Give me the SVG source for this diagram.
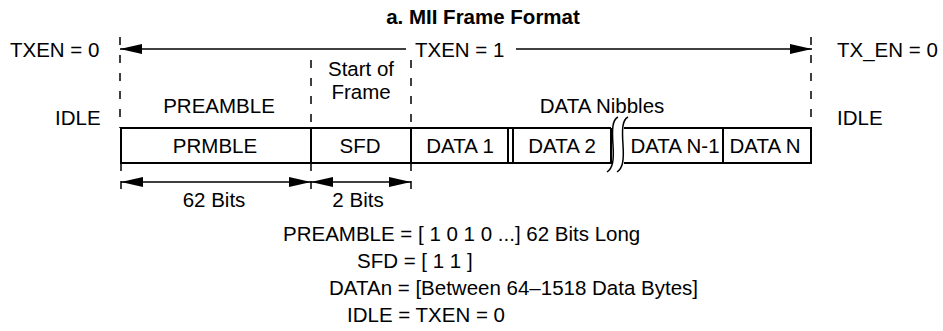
<svg xmlns="http://www.w3.org/2000/svg" width="943" height="331" viewBox="0 0 943 331">
<defs>
<style>
text{font-family:"Liberation Sans",Arial,sans-serif;font-size:20.5px;fill:#000}
.t{font-weight:bold;font-size:20.5px}
.c{text-anchor:middle}
.box{fill:none;stroke:#000;stroke-width:2}
.dash{stroke:#000;stroke-width:1.5;stroke-dasharray:8,10;fill:none}
.arr{stroke:#000;stroke-width:1.5;fill:none}
.brk{stroke:#000;stroke-width:1.5;fill:none}
</style>
<marker id="ah" viewBox="0 0 22 10" refX="22" refY="5" markerWidth="22" markerHeight="10" markerUnits="userSpaceOnUse" orient="auto-start-reverse">
<path d="M0,0 L22,5 L0,10 z" fill="#000"/>
</marker>
</defs>
<rect width="943" height="331" fill="#fff"/>
<text class="t c" x="483" y="24">a. MII Frame Format</text>
<g id="labels-top">
<text x="10" y="57">TXEN = 0</text>
<text x="415" y="57">TXEN = 1</text>
<text x="837" y="57">TX_EN = 0</text>
<text class="c" x="361" y="76">Start of</text>
<text class="c" x="361" y="99">Frame</text>
<text class="c" x="219" y="113">PREAMBLE</text>
<text class="c" x="602" y="113">DATA Nibbles</text>
<text x="55" y="125">IDLE</text>
<text x="837" y="125">IDLE</text>
</g>
<g id="frame">
<path class="box" d="M611,128 H121 V163 H611 V128 M624,128 H811 V163 H624"/>
<path class="box" d="M311,128 V163 M411,128 V163 M508,128 V163 M513,128 V163 M723,128 V163"/>
<path class="brk" d="M618,117 C612,120 612,130 613,145 C614,160 613,168 607,172"/>
<path class="brk" d="M628,117 C622,120 622,130 623,145 C624,160 623,168 617,172"/>
</g>
<g id="n-prmble"><text class="c" x="215" y="153">PRMBLE</text></g>
<g id="n-sfd"><text class="c" x="360" y="153">SFD</text></g>
<g id="n-data1"><text class="c" x="460" y="153">DATA 1</text></g>
<g id="n-data2"><text class="c" x="562" y="153">DATA 2</text></g>
<g id="n-datan1"><text class="c" x="675" y="153">DATA N-1</text></g>
<g id="n-datan"><text class="c" x="765" y="153">DATA N</text></g>
<g id="connectors">
<path class="dash" d="M120,37 V128 M311,60 V128 M411,60 V128 M811,37 V128"/>
<path class="dash" d="M121,163 V195 M311,163 V195 M411,163 V195"/>
<line class="arr" x1="120" y1="49" x2="406" y2="49" marker-start="url(#ah)"/>
<line class="arr" x1="516" y1="49" x2="812" y2="49" marker-end="url(#ah)"/>
<line class="arr" x1="121" y1="182" x2="311" y2="182" marker-start="url(#ah)" marker-end="url(#ah)"/>
<line class="arr" x1="311" y1="182" x2="411" y2="182" marker-start="url(#ah)" marker-end="url(#ah)"/>
</g>
<g id="dims">
<text class="c" x="214" y="207">62 Bits</text>
<text class="c" x="358" y="207">2 Bits</text>
</g>
<g id="legend">
<text x="283" y="241">PREAMBLE = [ 1 0 1 0 ...] 62 Bits Long</text>
<text x="357" y="268">SFD = [ 1 1 ]</text>
<text x="329" y="295">DATAn = [Between 64–1518 Data Bytes]</text>
<text x="347" y="322">IDLE = TXEN = 0</text>
</g>
</svg>
